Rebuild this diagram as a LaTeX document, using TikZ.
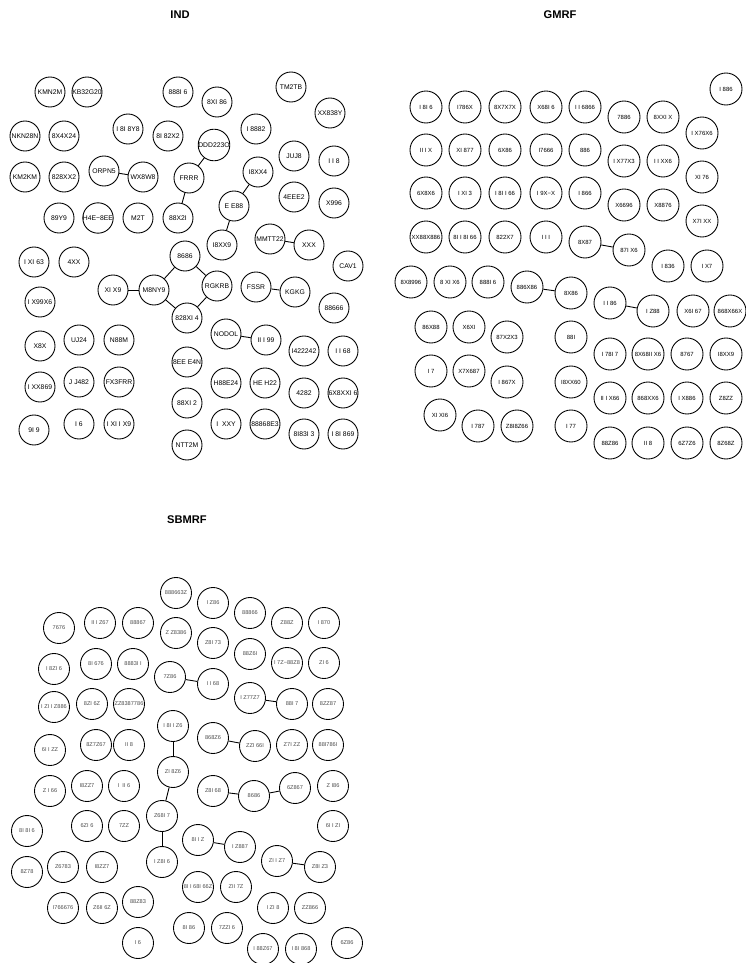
\documentclass[tikz,border=0pt]{standalone}
\usepackage{fontspec}
\setmainfont{Liberation Sans}
\usepackage{tikz}

\begin{document}
\begin{tikzpicture}[x=0.3mm, y=-0.3mm,
  ttl/.style={font=\fontsize{9.5}{11}\selectfont\bfseries},
  ind/.style={circle, draw, line width=0.75pt, inner sep=0pt, minimum size=9mm, font=\fontsize{5.8}{6}\selectfont},
  gm/.style={circle, draw, line width=0.75pt, inner sep=0pt, minimum size=9.6mm, font=\fontsize{5.1}{6}\selectfont},
  sb/.style={circle, draw, line width=0.75pt, inner sep=0pt, minimum size=9.3mm, text=black!70, font=\fontsize{4.8}{5}\selectfont},
  lnk/.style={line width=0.75pt},
]
  \useasboundingbox (0,0) rectangle (745,963);

  % panel titles
  \node[ttl] (tind) at (180,15) {IND};
  \node[ttl] (tgm) at (560,15) {GMRF};
  \node[ttl] (tsb) at (187,520) {SBMRF};

  % IND
  \node[ind] (i01) at (50,92) {KMN2M};
  \node[ind] (i02) at (87,92) {KB32G20};
  \node[ind] (i03) at (178,92) {888I 6};
  \node[ind] (i04) at (217,102) {8XI 86};
  \node[ind] (i05) at (291,87) {TM2TB};
  \node[ind] (i06) at (330,113) {XX838Y};
  \node[ind] (i07) at (25,136) {NKN28N};
  \node[ind] (i08) at (64,136) {8X4X24};
  \node[ind] (i09) at (128,129) {I 8I 8Y8};
  \node[ind] (i10) at (168,136) {8I 82X2};
  \node[ind] (i11) at (256,129) {I 8882};
  \node[ind] (i12) at (214,145) {DDD223O};
  \node[ind] (i13) at (294,156) {JUJ8};
  \node[ind] (i14) at (334,161) {I I 8};
  \node[ind] (i15) at (25,177) {KM2KM};
  \node[ind] (i16) at (64,177) {828XX2};
  \node[ind] (i17) at (104,171) {ORPN5};
  \node[ind] (i18) at (143,177) {WX8W8};
  \node[ind] (i19) at (189,178) {FRRR};
  \node[ind] (i20) at (258,172) {I8XX4};
  \node[ind] (i21) at (294,197) {4EEE2};
  \node[ind] (i22) at (334,203) {X996};
  \node[ind] (i23) at (59,218) {89Y9};
  \node[ind] (i24) at (98,218) {H4E−8EE};
  \node[ind] (i25) at (138,218) {M2T};
  \node[ind] (i26) at (178,218) {88X2I};
  \node[ind] (i27) at (234,206) {E E88};
  \node[ind] (i28) at (222,245) {I8XX9};
  \node[ind] (i29) at (270,239) {MMTT22};
  \node[ind] (i30) at (309,245) {XXX};
  \node[ind] (i31) at (348,266) {CAV1};
  \node[ind] (i32) at (34,262) {I XI 63};
  \node[ind] (i33) at (74,262) {4XX};
  \node[ind] (i34) at (185,256) {8686};
  \node[ind] (i35) at (113,290) {XI X9};
  \node[ind] (i36) at (154,290) {M8NY9};
  \node[ind] (i37) at (217,286) {RGKRB};
  \node[ind] (i38) at (256,287) {FSSR};
  \node[ind] (i39) at (295,292) {KGKG};
  \node[ind] (i40) at (40,302) {I X99X6};
  \node[ind] (i41) at (334,308) {88666};
  \node[ind] (i42) at (187,318) {828XI 4};
  \node[ind] (i43) at (226,334) {NODOL};
  \node[ind] (i44) at (266,340) {II I 99};
  \node[ind] (i45) at (304,351) {I422242};
  \node[ind] (i46) at (343,351) {I I 68};
  \node[ind] (i47) at (40,346) {X8X};
  \node[ind] (i48) at (79,340) {UJ24};
  \node[ind] (i49) at (119,340) {N88M};
  \node[ind] (i50) at (187,362) {8EE E4N};
  \node[ind] (i51) at (40,387) {I XX869};
  \node[ind] (i52) at (79,382) {J J482};
  \node[ind] (i53) at (119,382) {FX3FRR};
  \node[ind] (i54) at (226,383) {H88E24};
  \node[ind] (i55) at (265,383) {HE H22};
  \node[ind] (i56) at (304,393) {4282};
  \node[ind] (i57) at (343,393) {6X8XXI 6};
  \node[ind] (i58) at (187,403) {88XI 2};
  \node[ind] (i59) at (34,430) {9I 9};
  \node[ind] (i60) at (79,424) {I 6};
  \node[ind] (i61) at (119,424) {I XI I X9};
  \node[ind] (i62) at (226,424) {I \ XXY};
  \node[ind] (i63) at (265,424) {88868E3};
  \node[ind] (i64) at (304,434) {8I83I 3};
  \node[ind] (i65) at (343,434) {I 8I 869};
  \node[ind] (i66) at (187,445) {NTT2M};
  \draw[lnk] (i17) -- (i18);
  \draw[lnk] (i12) -- (i19);
  \draw[lnk] (i19) -- (i26);
  \draw[lnk] (i20) -- (i27);
  \draw[lnk] (i27) -- (i28);
  \draw[lnk] (i29) -- (i30);
  \draw[lnk] (i35) -- (i36);
  \draw[lnk] (i36) -- (i34);
  \draw[lnk] (i36) -- (i42);
  \draw[lnk] (i34) -- (i37);
  \draw[lnk] (i37) -- (i42);
  \draw[lnk] (i38) -- (i39);
  \draw[lnk] (i43) -- (i44);

  % GMRF
  \node[gm] (g01) at (426,107) {I 8I 6};
  \node[gm] (g02) at (465,107) {I786X};
  \node[gm] (g03) at (505,107) {8X7X7X};
  \node[gm] (g04) at (546,107) {X68I 6};
  \node[gm] (g05) at (585,107) {I I 6866};
  \node[gm] (g06) at (624,117) {7886};
  \node[gm] (g07) at (663,117) {8XXI X};
  \node[gm] (g08) at (726,89) {I 886};
  \node[gm] (g09) at (702,133) {I X76X6};
  \node[gm] (g10) at (426,150) {II I X};
  \node[gm] (g11) at (465,150) {XI 877};
  \node[gm] (g12) at (505,150) {6X86};
  \node[gm] (g13) at (546,150) {I7666};
  \node[gm] (g14) at (585,150) {886};
  \node[gm] (g15) at (624,161) {I X77X3};
  \node[gm] (g16) at (663,161) {I I XX6};
  \node[gm] (g17) at (702,177) {XI 76};
  \node[gm] (g18) at (426,193) {6X8X6};
  \node[gm] (g19) at (465,193) {I XI 3};
  \node[gm] (g20) at (505,193) {I 8I I 66};
  \node[gm] (g21) at (546,193) {I 9X−X};
  \node[gm] (g22) at (585,193) {I 866};
  \node[gm] (g23) at (624,205) {X6696};
  \node[gm] (g24) at (663,205) {X8876};
  \node[gm] (g25) at (702,221) {X7I XX};
  \node[gm] (g26) at (426,237) {XX88X886};
  \node[gm] (g27) at (465,237) {8I I 8I 66};
  \node[gm] (g28) at (505,237) {822X7};
  \node[gm] (g29) at (546,237) {I I I};
  \node[gm] (g30) at (585,242) {8X87};
  \node[gm] (g31) at (629,250) {87I X6};
  \node[gm] (g32) at (668,266) {I 836};
  \node[gm] (g33) at (707,266) {I X7};
  \node[gm] (g34) at (411,282) {8X8996};
  \node[gm] (g35) at (450,282) {8 XI X6};
  \node[gm] (g36) at (488,282) {888I 6};
  \node[gm] (g37) at (527,287) {886X86};
  \node[gm] (g38) at (571,293) {8X86};
  \node[gm] (g39) at (610,303) {I I 86};
  \node[gm] (g40) at (653,311) {I Z88};
  \node[gm] (g41) at (693,311) {X6I 67};
  \node[gm] (g42) at (730,311) {868X66X};
  \node[gm] (g43) at (431,327) {86X88};
  \node[gm] (g44) at (469,327) {X6XI};
  \node[gm] (g45) at (507,337) {87X2X3};
  \node[gm] (g46) at (571,337) {88I};
  \node[gm] (g47) at (610,354) {I 78I 7};
  \node[gm] (g48) at (648,354) {8X68II X6};
  \node[gm] (g49) at (687,354) {8767};
  \node[gm] (g50) at (726,354) {I8XX9};
  \node[gm] (g51) at (431,371) {I 7};
  \node[gm] (g52) at (469,371) {X7X687};
  \node[gm] (g53) at (507,382) {I 867X};
  \node[gm] (g54) at (571,382) {I8XX60};
  \node[gm] (g55) at (610,398) {II I X66};
  \node[gm] (g56) at (648,398) {868XX6};
  \node[gm] (g57) at (687,398) {I X886};
  \node[gm] (g58) at (726,398) {Z8ZZ};
  \node[gm] (g59) at (440,415) {XI XI6};
  \node[gm] (g60) at (478,426) {I 787};
  \node[gm] (g61) at (517,426) {Z8I8Z66};
  \node[gm] (g62) at (571,426) {I 77};
  \node[gm] (g63) at (610,443) {88Z86};
  \node[gm] (g64) at (648,443) {II 8};
  \node[gm] (g65) at (687,443) {6Z7Z6};
  \node[gm] (g66) at (726,443) {8Z68Z};
  \draw[lnk] (g30) -- (g31);
  \draw[lnk] (g37) -- (g38);
  \draw[lnk] (g39) -- (g40);

  % SBMRF
  \node[sb] (s01) at (176,593) {888663Z};
  \node[sb] (s02) at (213,603) {I Z86};
  \node[sb] (s03) at (250,613) {88866};
  \node[sb] (s04) at (287,623) {Z88Z};
  \node[sb] (s05) at (324,623) {I 870};
  \node[sb] (s06) at (59,628) {7676};
  \node[sb] (s07) at (100,623) {II I Z67};
  \node[sb] (s08) at (138,623) {88867};
  \node[sb] (s09) at (176,633) {Z Z8386};
  \node[sb] (s10) at (213,643) {Z8I 73};
  \node[sb] (s11) at (250,654) {88Z6I};
  \node[sb] (s12) at (287,663) {I 7Z−88Z8};
  \node[sb] (s13) at (324,663) {ZI 6};
  \node[sb] (s14) at (54,669) {I 8ZI 6};
  \node[sb] (s15) at (96,664) {8I 676};
  \node[sb] (s16) at (133,664) {8883I I};
  \node[sb] (s17) at (170,677) {7Z86};
  \node[sb] (s18) at (213,684) {I I 68};
  \node[sb] (s19) at (250,698) {I Z77Z7};
  \node[sb] (s20) at (292,704) {88I 7};
  \node[sb] (s21) at (328,704) {8ZZ87};
  \node[sb] (s22) at (54,707) {I ZI I Z886};
  \node[sb] (s23) at (92,704) {8ZI 6Z};
  \node[sb] (s24) at (129,704) {ZZ8387786};
  \node[sb] (s25) at (173,726) {I 8I I Z6};
  \node[sb] (s26) at (50,750) {6I I ZZ};
  \node[sb] (s27) at (96,745) {8Z7Z67};
  \node[sb] (s28) at (129,745) {II 8};
  \node[sb] (s29) at (213,738) {868Z6};
  \node[sb] (s30) at (255,746) {ZZI 66I};
  \node[sb] (s31) at (292,745) {Z7I ZZ};
  \node[sb] (s32) at (328,745) {88I786I};
  \node[sb] (s33) at (173,772) {ZI 8Z6};
  \node[sb] (s34) at (50,791) {Z I 66};
  \node[sb] (s35) at (87,786) {I8ZZ7};
  \node[sb] (s36) at (124,786) {I \ II 6};
  \node[sb] (s37) at (213,791) {Z8I 68};
  \node[sb] (s38) at (254,796) {8686};
  \node[sb] (s39) at (295,788) {6Z867};
  \node[sb] (s40) at (333,786) {Z I86};
  \node[sb] (s41) at (27,831) {8I 8I 6};
  \node[sb] (s42) at (87,826) {6ZI 6};
  \node[sb] (s43) at (124,826) {7ZZ};
  \node[sb] (s44) at (162,816) {Z68I 7};
  \node[sb] (s45) at (333,826) {6I I ZI};
  \node[sb] (s46) at (198,840) {8I I Z};
  \node[sb] (s47) at (240,847) {I Z887};
  \node[sb] (s48) at (27,872) {8Z78};
  \node[sb] (s49) at (63,867) {Z6783};
  \node[sb] (s50) at (102,867) {I8ZZ7};
  \node[sb] (s51) at (162,862) {I Z8I 6};
  \node[sb] (s52) at (277,861) {ZI I Z7};
  \node[sb] (s53) at (320,867) {Z8I Z3};
  \node[sb] (s54) at (198,887) {8I I 68I 66Z};
  \node[sb] (s55) at (236,887) {ZII 7Z};
  \node[sb] (s56) at (63,908) {I766676};
  \node[sb] (s57) at (102,908) {Z6II 6Z};
  \node[sb] (s58) at (138,902) {88Z83};
  \node[sb] (s59) at (273,908) {I ZI 8};
  \node[sb] (s60) at (310,908) {ZZ866};
  \node[sb] (s61) at (189,928) {8I 86};
  \node[sb] (s62) at (227,928) {7ZZI 6};
  \node[sb] (s63) at (138,943) {I 6};
  \node[sb] (s64) at (263,949) {I 88Z67};
  \node[sb] (s65) at (301,949) {I 8I 868};
  \node[sb] (s66) at (347,943) {6Z86};
  \draw[lnk] (s17) -- (s18);
  \draw[lnk] (s19) -- (s20);
  \draw[lnk] (s29) -- (s30);
  \draw[lnk] (s25) -- (s33);
  \draw[lnk] (s33) -- (s44);
  \draw[lnk] (s44) -- (s51);
  \draw[lnk] (s37) -- (s38);
  \draw[lnk] (s38) -- (s39);
  \draw[lnk] (s46) -- (s47);
  \draw[lnk] (s52) -- (s53);
\end{tikzpicture}
\end{document}
